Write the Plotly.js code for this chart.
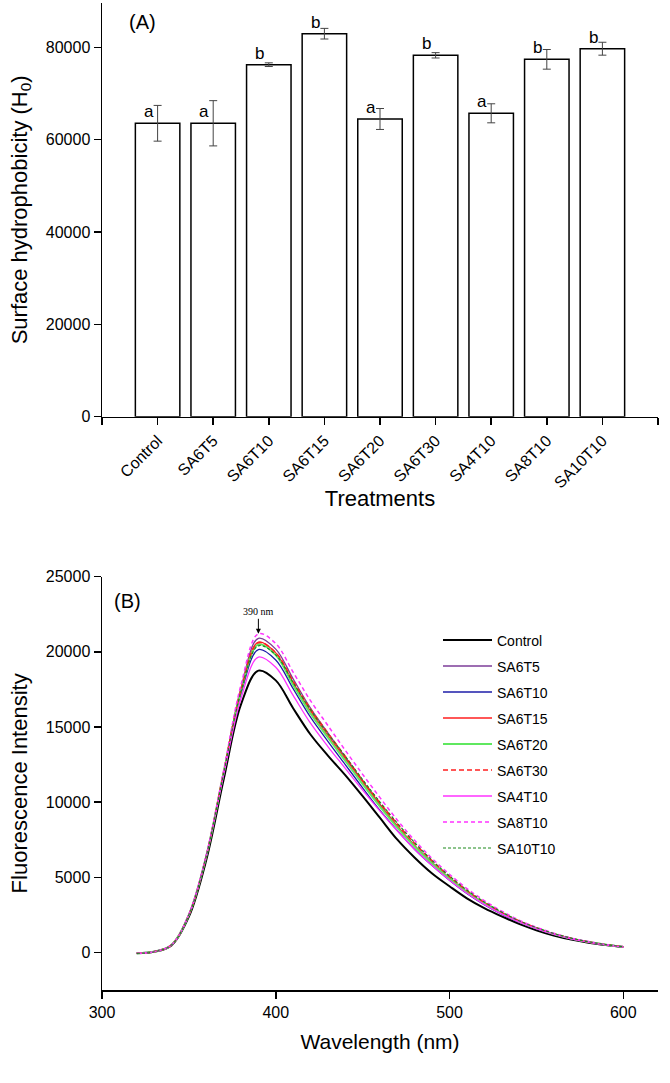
<!DOCTYPE html>
<html>
<head>
<meta charset="utf-8">
<script src="https://cdn.plot.ly/plotly-3.0.1.min.js"></script>
<style>html,body{margin:0;padding:0;background:#fff;}#chart{width:670px;height:1083px;}</style>
</head>
<body>
<div id="chart"></div>
<script>
// ---- Panel A data ----
const categories = ['Control','SA6T5','SA6T10','SA6T15','SA6T20','SA6T30','SA4T10','SA8T10','SA10T10'];
const h0Values = [63550, 63550, 76240, 82950, 64480, 78270, 65710, 77400, 79700];
const h0Errors = [3870, 4900, 400, 1150, 2270, 580, 2060, 2130, 1400];
const sigLetters = ['a','a','b','b','a','b','a','b','b'];
const h0TickVals = [0, 20000, 40000, 60000, 80000];

// ---- Panel B data ----
const wavelengths = [320,330,340,350,360,370,380,390,400,410,420,430,440,450,460,470,480,490,500,510,520,530,540,550,560,570,580,590,600];
const intControl = [-60,40,470,2380,6150,11500,16500,18750,18100,16250,14500,13100,11800,10400,8950,7500,6300,5250,4400,3600,2950,2400,1900,1480,1130,860,650,490,360];
const intSA6T5   = [-60,40,500,2520,6420,12000,17600,20900,20180,18200,16250,14600,13000,11400,9850,8400,7100,5980,4950,4050,3280,2630,2070,1610,1230,930,700,510,370];
const intSA6T10  = [-60,40,490,2480,6350,11900,17200,20150,19460,17550,15650,14050,12500,10950,9450,8100,6850,5780,4800,3920,3180,2550,2010,1570,1200,900,680,500,360];
const intSA6T15  = [-60,40,500,2500,6400,12000,17500,20650,19930,17950,16050,14450,12900,11350,9820,8400,7080,5950,4930,4020,3260,2610,2060,1600,1220,920,690,510,370];
const intSA6T20  = [-60,40,500,2500,6400,11950,17400,20500,19780,17800,15900,14300,12750,11200,9700,8300,7030,5920,4920,4020,3260,2610,2060,1600,1220,920,690,510,370];
const intSA6T30  = [-60,40,500,2510,6420,12000,17450,20600,19950,18050,16200,14600,13050,11450,9950,8550,7250,6100,5050,4120,3340,2670,2100,1640,1250,940,700,520,380];
const intSA4T10  = [-60,40,500,2530,6450,11800,16900,19650,18970,17100,15250,13700,12250,10800,9400,8080,6850,5780,4810,3940,3200,2570,2030,1580,1210,910,690,500,370];
const intSA8T10  = [-60,40,500,2520,6450,12100,17800,21200,20550,18650,16750,15100,13450,11850,10300,8800,7450,6250,5200,4250,3450,2750,2150,1680,1280,960,720,530,380];
const intSA10T10 = [-60,40,500,2500,6400,11900,17350,20400,19800,17950,16150,14550,13050,11500,10000,8600,7300,6120,5080,4150,3360,2690,2110,1650,1260,950,710,520,380];
const seriesNames = ['Control','SA6T5','SA6T10','SA6T15','SA6T20','SA6T30','SA4T10','SA8T10','SA10T10'];
const seriesValues = [intControl,intSA6T5,intSA6T10,intSA6T15,intSA6T20,intSA6T30,intSA4T10,intSA8T10,intSA10T10];
const peakWavelength = 390;

// ---- styles ----
const seriesColors = ['#000000','#7d3c98','#1c1ca8','#ff1f1f','#5fe85f','#ff1f1f','#ff33ff','#ff33ff','#1d8a1d'];
const seriesDash = ['solid','solid','solid','solid','solid','5px,3px','solid','4px,3px','3px,2px'];
const seriesWidth = [2,1.3,1.3,1.3,2,1.5,1.3,1.5,1.2];

const FONT = 'Liberation Sans, Arial, Helvetica, sans-serif';
const idx = categories.map((c, i) => i);

// plot-area geometry helpers (margins below)
const M = {l: 102, r: 12, t: 3, b: 93};
const W = 670, H = 1083;
const px2paperX = px => (px - M.l) / (W - M.l - M.r);
const px2paperY = py => (H - M.b - py) / (H - M.t - M.b);

const traces = [];
traces.push({
  type: 'bar', x: idx, y: h0Values, width: 0.8,
  marker: {color: '#ffffff', line: {color: '#000000', width: 1.5}},
  error_y: {type: 'data', array: h0Errors, visible: true, color: '#444444', thickness: 1, width: 4},
  xaxis: 'x', yaxis: 'y', showlegend: false, hoverinfo: 'x+y'
});
seriesNames.forEach((n, i) => {
  traces.push({
    type: 'scatter', mode: 'lines', x: wavelengths, y: seriesValues[i], name: n,
    line: {color: seriesColors[i], dash: seriesDash[i], width: seriesWidth[i], shape: 'spline', smoothing: 1},
    xaxis: 'x2', yaxis: 'y2', showlegend: false
  });
});

const annotations = [];
const shapes = [];
categories.forEach((c, i) => {
  annotations.push({
    x: i, y: h0Values[i], xref: 'x', yref: 'y', text: sigLetters[i], showarrow: false,
    xanchor: 'center', yanchor: 'bottom', xshift: -9, yshift: 0,
    font: {family: FONT, size: 17, color: '#000'}
  });
});
annotations.push({x: px2paperX(142), y: px2paperY(22), xref: 'paper', yref: 'paper', text: '(A)', showarrow: false,
  xanchor: 'center', yanchor: 'middle', font: {family: FONT, size: 20, color: '#000'}});
annotations.push({x: px2paperX(127), y: px2paperY(601), xref: 'paper', yref: 'paper', text: '(B)', showarrow: false,
  xanchor: 'center', yanchor: 'middle', font: {family: FONT, size: 20, color: '#000'}});
annotations.push({x: peakWavelength, y: Math.max(...intSA8T10), xref: 'x2', yref: 'y2', text: '390 nm',
  showarrow: true, arrowhead: 2, arrowsize: 1, arrowwidth: 1, arrowcolor: '#000', ax: 0, ay: -22,
  font: {family: 'Liberation Serif, Times New Roman, serif', size: 10, color: '#000'}});

// custom legend (long line samples like the original)
seriesNames.forEach((n, i) => {
  const yc = 640 + 26 * i;
  shapes.push({type: 'line', xref: 'paper', yref: 'paper',
    x0: px2paperX(443), x1: px2paperX(492), y0: px2paperY(yc), y1: px2paperY(yc),
    line: {color: seriesColors[i], dash: seriesDash[i], width: seriesWidth[i]}});
  annotations.push({x: px2paperX(495), y: px2paperY(yc + 1), xref: 'paper', yref: 'paper', text: n,
    showarrow: false, xanchor: 'left', yanchor: 'middle', font: {family: FONT, size: 14, color: '#000'}});
});

const axBase = {
  showline: true, linewidth: 1.5, linecolor: '#000', ticks: 'outside', ticklen: 7, tickwidth: 1.5,
  tickcolor: '#000', showgrid: false, zeroline: false, tickfont: {family: FONT, size: 16, color: '#000'}
};

const layout = {
  width: W, height: H,
  margin: M,
  paper_bgcolor: '#fff', plot_bgcolor: '#fff',
  font: {family: FONT, color: '#000'},
  showlegend: false,
  xaxis: Object.assign({}, axBase, {
    domain: [0, 1], anchor: 'y', range: [-1, 9],
    tickmode: 'array', tickvals: idx, ticktext: categories, tickangle: -45,
    minor: {ticks: 'outside', ticklen: 7, tickwidth: 1.5, tickcolor: '#000', tick0: -1, dtick: 1, showgrid: false},
    title: {text: 'Treatments', font: {family: FONT, size: 22, color: '#000'}, standoff: 0}
  }),
  yaxis: Object.assign({}, axBase, {
    domain: [px2paperY(416.7), 1], anchor: 'x', range: [0, 89600],
    tickmode: 'array', tickvals: h0TickVals, tickformat: 'd',
    title: {text: 'Surface hydrophobicity (H<sub>0</sub>)', font: {family: FONT, size: 22, color: '#000'}, standoff: 12}
  }),
  xaxis2: Object.assign({}, axBase, {
    domain: [0, 1], anchor: 'y2', range: [300, 620], tick0: 300, dtick: 100,
    title: {text: 'Wavelength (nm)', font: {family: FONT, size: 21, color: '#000'}, standoff: 14}
  }),
  yaxis2: Object.assign({}, axBase, {
    domain: [0, px2paperY(576.7)], anchor: 'x2', range: [-2500, 25000], tick0: 0, dtick: 5000, tickformat: 'd',
    title: {text: 'Fluorescence Intensity', font: {family: FONT, size: 22, color: '#000'}, standoff: 12}
  }),
  annotations: annotations,
  shapes: shapes
};

Plotly.newPlot('chart', traces, layout, {displayModeBar: false, staticPlot: true});
</script>
</body>
</html>
